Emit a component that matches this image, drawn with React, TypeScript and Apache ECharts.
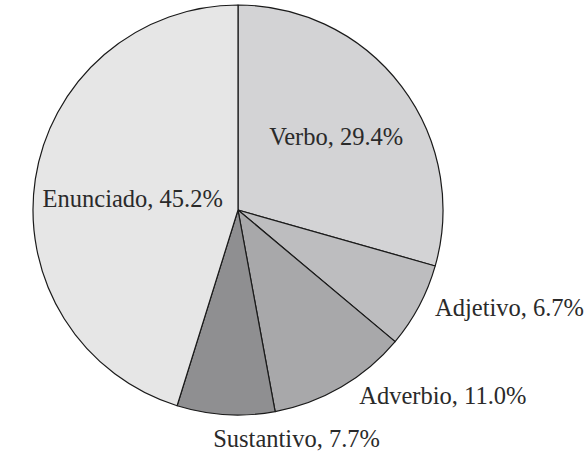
import React, { useEffect, useRef } from "react";
import * as echarts from "echarts";

const categories = ["Verbo", "Adjetivo", "Adverbio", "Sustantivo", "Enunciado"];
const values = [29.4, 6.7, 11.0, 7.7, 45.2];
const colors = ["#d3d3d5", "#bdbdbf", "#a8a8aa", "#8f8f91", "#e6e6e6"];
const insideLabels = ["Verbo", "Enunciado"];
const FONT = "Liberation Serif";

export default function App() {
  const ref = useRef<HTMLDivElement>(null);
  useEffect(() => {
    if (!ref.current) return;
    const chart = echarts.init(ref.current, null, { renderer: "svg" });
    const data = categories.map((name, i) => {
      const inside = insideLabels.includes(name);
      return {
        name,
        value: values[i],
        itemStyle: { color: colors[i] },
        label: {
          position: inside ? ("inside" as const) : ("outside" as const),
        },
      };
    });
    chart.setOption({
      animation: false,
      backgroundColor: "#ffffff",
      textStyle: { fontFamily: FONT },
      series: [
        {
          type: "pie",
          center: [238, 210],
          radius: [0, 205],
          startAngle: 90,
          clockwise: true,
          avoidLabelOverlap: false,
          data,
          itemStyle: { borderColor: "#1a1a1a", borderWidth: 1.2 },
          label: {
            show: true,
            formatter: (p: any) => `${p.name}, ${p.value.toFixed(1)}%`,
            fontFamily: FONT,
            fontSize: 24.5,
            color: "#2a2a2a",
          },
          labelLine: { show: false, length: 10, length2: 0 },
          labelLayout: (p: any) => {
            const name = categories[p.dataIndex];
            if (name === "Sustantivo") return { align: "left", dx: -7, dy: 14 };
            if (name === "Adverbio") return { align: "left", dx: 8, dy: 0 };
            if (name === "Adjetivo") return { align: "left", dx: 2, dy: -3 };
            if (name === "Verbo") return { dx: 14, dy: -10 };
            return { dx: -1, dy: 4 };
          },
          emphasis: { disabled: true },
        },
      ],
    });
    return () => chart.dispose();
  }, []);
  return (
    <div
      ref={ref}
      style={{ position: "absolute", left: 0, top: 0, width: 584, height: 456 }}
    />
  );
}
